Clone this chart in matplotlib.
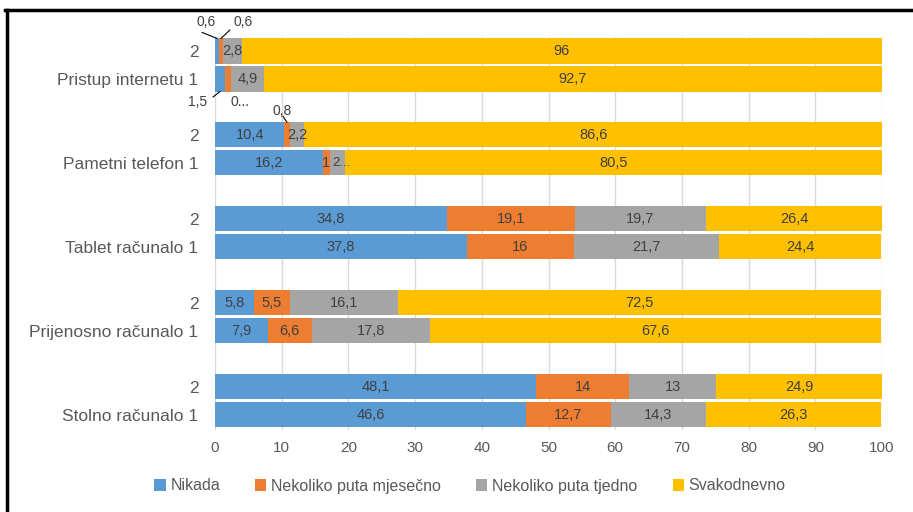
import matplotlib
matplotlib.use("Agg")
import matplotlib.pyplot as plt
from matplotlib.lines import Line2D
import numpy as np

plt.rcParams['font.family'] = ['Liberation Sans', 'DejaVu Sans']

groups = ["Stolno računalo", "Prijenosno računalo", "Tablet računalo", "Pametni telefon", "Pristup internetu"]
series = ["Nikada", "Nekoliko puta mjesečno", "Nekoliko puta tjedno", "Svakodnevno"]
colors = ["#5B9BD5", "#ED7D31", "#A5A5A5", "#FFC000"]

# values per group: (wave 1, wave 2) for each series
nikada_1 = [46.6, 7.9, 37.8, 16.2, 1.5]
nikada_2 = [48.1, 5.8, 34.8, 10.4, 0.6]
mjesecno_1 = [12.7, 6.6, 16.0, 1.0, 0.9]
mjesecno_2 = [14.0, 5.5, 19.1, 0.8, 0.6]
tjedno_1 = [14.3, 17.8, 21.7, 2.3, 4.9]
tjedno_2 = [13.0, 16.1, 19.7, 2.2, 2.8]
dnevno_1 = [26.3, 67.6, 24.4, 80.5, 92.7]
dnevno_2 = [24.9, 72.5, 26.4, 86.6, 96.0]

vals_1 = [nikada_1, mjesecno_1, tjedno_1, dnevno_1]
vals_2 = [nikada_2, mjesecno_2, tjedno_2, dnevno_2]

def fmt(v):
    s = f"{v:.1f}".rstrip('0').rstrip('.')
    return s.replace('.', ',')

fig = plt.figure(figsize=(9.13, 5.12), dpi=100)
ax = fig.add_axes([215/913, 1-430/512, (882-215)/913, (430-37)/512])

pos_1 = [3*g for g in range(len(groups))]
pos_2 = [3*g + 1 for g in range(len(groups))]
yticks = []
ylabels = []
for g in range(len(groups)):
    yticks += [pos_1[g], pos_2[g]]
    ylabels += [groups[g] + " 1", "2"]

h = 0.9
txtc = "#404040"
# segments labelled outside the bar:
# (wave, group, series) -> (text offset px, leader end offset px or None, edge)
outside = {
    (2, 4, 0): ((-11, 16.5), (-15, 6), 'top'),
    (2, 4, 1): ((22, 16.5), (9, 8.5), 'top'),
    (1, 4, 0): ((-22, -10.5), (-7, -5.5), 'bottom'),
    (1, 4, 1): ((12, -10.5), None, 'bottom'),
    (2, 3, 1): ((-5, 11), (-4, 6), 'top'),
}
truncate = {(1, 4, 1), (1, 3, 2)}

for wave, pos, vals in ((1, pos_1, vals_1), (2, pos_2, vals_2)):
    left = np.zeros(len(groups))
    for s in range(len(series)):
        v = np.array(vals[s])
        ax.barh(pos, v, left=left, height=h, color=colors[s],
                label=series[s] if wave == 1 else None, zorder=2)
        for g in range(len(groups)):
            lab = fmt(v[g])
            key = (wave, g, s)
            fs = 10.5
            if key in truncate:
                lab = lab.split(',')[0] + "..."
                fs = 9.5
            cx = left[g] + v[g] / 2
            if key in outside:
                toff, loff, edge = outside[key]
                yy = pos[g] + h/2 if edge == 'top' else pos[g] - h/2
                ax.annotate(lab, xy=(cx, yy), xytext=toff, textcoords='offset pixels',
                            ha='center', va='center', fontsize=10, color=txtc,
                            annotation_clip=False)
                if loff is not None:
                    ax.annotate('', xy=(cx, yy), xytext=loff, textcoords='offset pixels',
                                arrowprops=dict(arrowstyle='-', color='black', lw=0.8,
                                                shrinkA=0, shrinkB=0, patchA=None),
                                annotation_clip=False, zorder=4)
            else:
                if key in truncate:
                    ax.text(left[g] + 0.4, pos[g], lab, ha='left', va='center', fontsize=fs, color=txtc, zorder=3)
                else:
                    ax.text(cx, pos[g], lab, ha='center', va='center', fontsize=fs, color=txtc, zorder=3)
        left = left + v

ax.set_xlim(0, 100)
ax.set_ylim(-0.55, 13.5)
ax.set_xticks(np.arange(0, 101, 10))
ax.set_yticks(yticks)
ax.set_yticklabels(ylabels, fontsize=12.5, color="#595959")
ax.tick_params(axis='x', labelsize=11, colors="#595959", length=0, pad=8)
ax.tick_params(axis='y', length=0, pad=12)
ax.grid(axis='x', color="#D9D9D9", lw=1, zorder=0)
for sp in ax.spines.values():
    sp.set_visible(False)

ax.legend(loc='center', bbox_to_anchor=(0.5 + (470 - 548.5)/667, (430-486)/393), ncol=4, frameon=False,
          fontsize=11.5, handlelength=0.7, handleheight=0.7, handletextpad=0.3, columnspacing=2.2,
          labelcolor="#595959")

fig.add_artist(Line2D([5/913, 1], [1-10/512, 1-10/512], color='black', lw=2.5))
fig.add_artist(Line2D([7/913, 7/913], [0, 1-10/512], color='black', lw=2.5))

fig.savefig("out.png", dpi=100)
